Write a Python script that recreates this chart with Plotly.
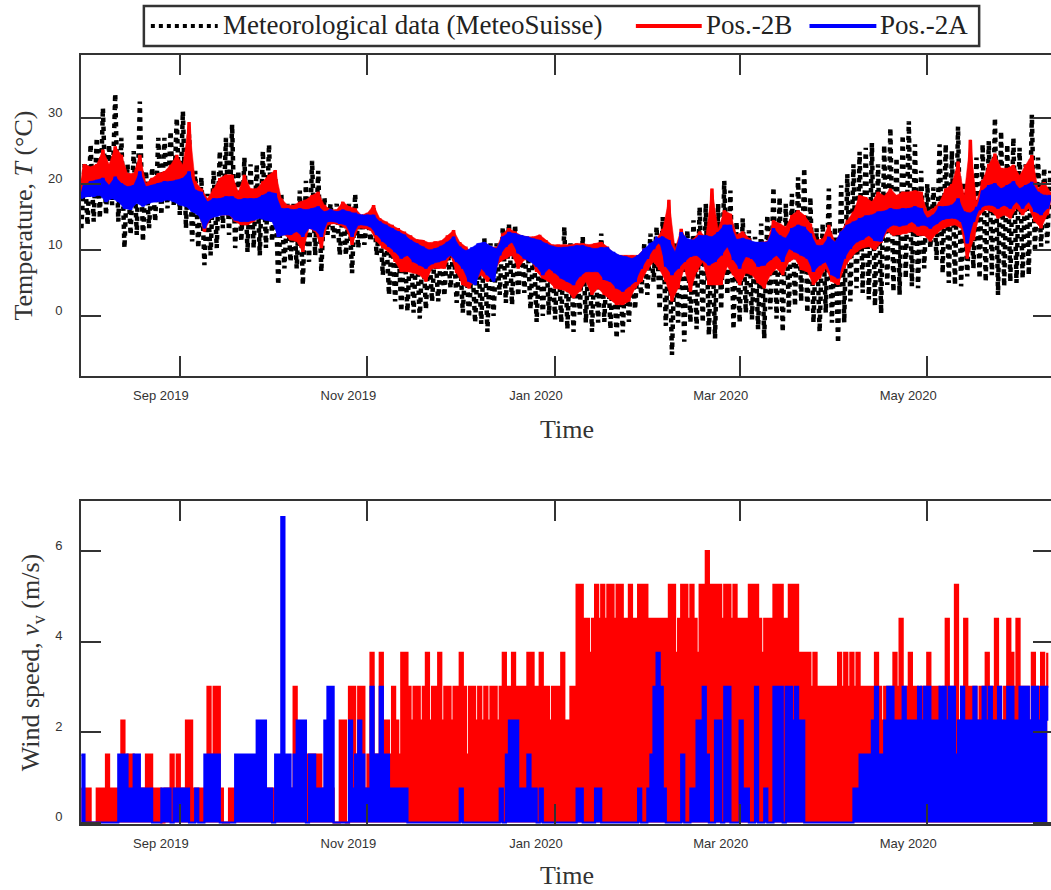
import pandas as pd
import plotly.graph_objects as go

# ---------------- data ----------------
# temperature: one min / max pair every 2 days, starting 2019-07-31
temp_start = "2019-07-31"
temp_step_days = 2

met_max = [23, 26, 27, 31.5, 26, 33.7, 27, 23, 25, 32.5, 22, 22.5, 27, 27, 28, 30, 31, 27.5, 22, 21,
           18.5, 22, 25, 27, 29, 22, 24, 23, 23, 25, 26, 21, 18.5, 17, 17, 19, 20.5, 23.5, 22, 18,
           17, 17, 16.5, 17, 18.5, 15.5, 15.5, 16.5, 14.5, 13.5, 12.5, 12, 11.5,
           12, 11.5, 11, 10.5, 10.5, 10.5, 11, 11, 10, 9.5, 9, 9.5, 11.8, 11, 11, 13.5, 14, 13.8,
           12.5, 12, 11.5, 11, 10.5, 10, 10.5, 13.5, 11, 10.5, 12, 10.5, 10.5, 12.5, 10, 9.5, 9,
           8.5, 8.5, 9, 11, 12.5, 13.5, 15, 14, 11, 12.5, 13, 14.5, 16.5, 17, 13.5, 17, 20.5,
           19, 14.3, 14.8, 13, 12, 14, 15.3, 19.5, 18, 17, 18.5, 21, 22.4, 18, 13.3, 14, 19.3, 13.5,
           19.8, 21.5, 23, 24.9, 25.5, 26.2, 23, 25.9, 28.5, 24, 27.4, 29.5, 26, 22, 20, 19.5, 26,
           26, 25, 28.7, 20.3, 20, 24, 26, 26.5, 30, 28, 26, 27, 25.5, 23, 30.5, 24, 22.4, 22]
met_min = [13.3, 13.8, 14.3, 14.8, 15.3, 16.8, 14.3, 10.3, 12.3, 12.3, 11.3, 13.3, 14.3, 15.3, 16.3,
           16.8, 15.3, 13.3, 11.3, 10.3, 7.7, 9.2, 10.3, 13.3, 12.3, 10.3, 11.3, 9.7, 10.3, 9.2,
           10.3, 11.3, 4.7, 7.2, 8.2, 7.2, 4.7, 8.2, 9.2, 6.7, 12.3, 11.8, 9.2, 9.2, 6.5, 10.3,
           10.8, 11.3, 9.2, 6.2, 3.2, 2.2, 0.7,
           0.7, 0.5, -0.4, 1, 2.2, 2.2, 3, 4.2, 2, 0.5, -0.2, -1, -1.2, -2.4, 0, 3.2, 2, 1.7, 3,
           3.5, 1, -0.9, 0, 0.2, -0.5, -1, -2, -2.4, 0.2, -1, -2.4, -1, -0.9, -2, -3.4, -2.5,
           -0.9, 1, 3.2, 3.2, 5.2, 1, -1.5, -5.9, -1, -3.9, -1, -2, -1, -2.9, -3.4, 1,
           3.2, -2, -1, 0.5, -0.5, -2, -3.4, 1, -0.4, -2.4, 0.5, 1.5, 2.2, 0.5, -1, -2.4, 0.5, -1,
           -4.1, -1, 2.2, 4.2, 3.5, 2.5, 1.5, 0.4, 4.7, 3.7, 3.2, 5.7, 4.5, 4.2, 7.2, 10.3, 8.5,
           6.5, 5, 4.7, 4.5, 6, 7.2, 5.7, 5.2, 6.2, 3.2, 4.5, 5.2, 5, 5.7, 6.2, 9.7, 10.5, 11]
pos2b_max = [23, 22.6, 23, 25.2, 23, 25.7, 24.4, 21.6, 21.6, 24.4, 20.1, 20.9, 21.6, 21.9, 22.9,
             24.4, 22.9, 29.4, 20.4, 19.3, 17.8, 19.3, 20.9, 21.4, 21.4, 18.8, 21.4, 19.3, 19.3,
             20.4, 21.4, 22.1, 17.8, 16.8, 16.8, 17.3, 17.6, 18.3, 18.8, 16.8, 16.1, 16.1, 17.3,
             16.6, 16.3, 15.3, 15.6, 16.8, 14.8, 14.3, 13.8, 13.3, 12.8,
             12.2, 11.6, 11.5, 11.1, 11.3, 11.4, 12.2, 13, 11.2, 10.5, 9.5, 9.2, 11.2, 10.5, 10.4,
             12.5, 13.3, 12.8, 12.2, 12, 12, 12.3, 11.5, 10.8, 10.8, 10.8, 10.8, 11, 11, 10.8, 11,
             11.2, 10.5, 9.5, 9.2, 9.2, 9.2, 9.2, 10.2, 10.4, 11.7, 13.2, 17.6, 10.2, 13.2, 11.2,
             11.7, 12.8, 12, 19.3, 13.2, 16,
             15.5, 12.3, 12.8, 11.8, 10.8, 11.2, 11.3, 14.5, 14, 13.5, 15.3, 16, 15.3, 14, 11.5,
             11.7, 13.8, 11.2, 12.8, 14.5, 15.8, 18.3, 18, 17.3, 18.8, 18.2, 19.3, 18.3, 18.8,
             18.8, 19, 18.8, 15.8, 16.3, 17.3, 19.3, 20, 23.4, 18.3, 26.7, 17.3, 20.6, 23, 24.6,
             22.4, 22.4, 22.9, 21.3, 22.9, 24.4, 19.3, 20.3, 18.8]
pos2b_min = [18.8, 18.8, 19.1, 18.8, 17.8, 18.3, 17.8, 16.8, 16.6, 17.3, 17.8, 18.3, 18.3, 18.3,
             18.6, 18.3, 17.3, 16.8, 16.3, 15.8, 12.8, 14.8, 15.3, 15.3, 15.3, 14.3, 13.8, 13.8,
             14.3, 15.3, 15.1, 14.8, 12.3, 12.3, 11.5, 11.3, 9.7, 13.3, 12.8, 10.3, 13.8, 14,
             13.8, 13.3, 10.8, 13.3, 13.3, 13, 11.3, 10.3, 9.7, 8.2, 6.7,
             6.7, 6.5, 6.2, 5.2, 7.2, 7.2, 7.2, 9.2, 6.5, 4.7, 4.2, 5.5, 6.2, 5.2, 6.5, 8.2, 8.7,
             9.2, 7.2, 8.5, 8.7, 6.7, 5.7, 5.2, 4.2, 4, 3.7, 2.7, 3.7, 5.2, 3.2, 4.2, 3.2, 2.5, 1.7,
             1.7, 2.2, 4.2, 5.2, 7, 8.2, 7, 5.2, 2.2, 4.2, 7.2, 3.7, 6.7, 8.2, 4.7, 4.7, 4.7,
             7.5, 6.2, 4.7, 6.5, 6.2, 5, 4.2, 6.2, 7.2, 6.2, 8.2, 8.7, 7, 6.7, 4.7, 5.7, 7.2, 5.2,
             4.7, 7.2, 8.7, 9.7, 10.3, 10.5, 10, 11.1, 12.8, 12.2, 12.3, 12.5, 12.8, 12.2, 12.2,
             11.3, 12.5, 13.2, 13.6, 13.8, 13.3, 8.7, 11.5, 15.3, 16.1, 15.8, 14.8, 15.3, 14.8,
             16.3, 15.3, 16.3, 14.3, 13.3, 15.3]
pos2a_max = [19.8, 20.4, 20.6, 20.9, 19.8, 21.1, 20.1, 19.6, 19.8, 21.9, 19.6, 19.8, 20.1, 20.4,
             20.4, 20.6, 20.9, 21.9, 19.1, 18.8, 17.3, 17.8, 17.8, 18.1, 18.1, 17.6, 17.8, 17.8,
             17.8, 18.3, 18.8, 18.6, 16.3, 16.3, 16.1, 16.3, 16.1, 16.3, 16.6, 15.8, 16.1, 15.8,
             16.1, 15.8, 15.6, 15.3, 15.3, 15.3, 14.3, 13.8, 13.3, 12.8, 12.3,
             11.5, 11, 10.5, 10, 10.2, 10.6, 11.2, 12, 10.5, 9.9, 10.4, 11, 11.2, 10.6, 10.2, 12,
             12.7, 12.5, 12.2, 12, 11.7, 11.5, 11, 10.6, 10.4, 10.4, 10.5, 10.7, 10.7, 10.4, 10.2,
             10.4, 10.4, 9.7, 9.2, 9, 8.7, 9.2, 10.2, 11, 11.7, 12, 11.5, 9.7, 12.7, 11.7, 11.5,
             12.2, 12.2, 12, 12.7, 13.8,
             13.8, 11.6, 11.8, 11.5, 11.2, 11.2, 11.2, 13.3, 12.2, 11.8, 13.3, 13.8, 13.5, 12.5,
             10.7, 10.7, 12, 11.2, 12.8, 13.8, 14.3, 14.8, 15.2, 15.3, 15.8, 15.9, 16.3, 16.1,
             16.3, 16.3, 16.6, 16.3, 14.8, 15.3, 16.6, 16.6, 16.8, 17.8, 15.8, 15.6, 16.3, 19,
             19.8, 20.1, 19.3, 19.8, 20.4, 19.3, 19.8, 20.3, 18.8, 18.3, 18.3]
pos2a_min = [17.8, 18.1, 18.1, 18.3, 17.3, 17.8, 17.3, 16.3, 16.1, 17.1, 16.6, 17.1, 17.3, 17.3,
             17.6, 17.3, 16.8, 16.6, 15.8, 15.3, 13.3, 14.8, 15.1, 15.3, 15.3, 14.5, 14.3, 14.3,
             14.5, 14.8, 14.5, 14.3, 12, 12.3, 12.3, 12.8, 12, 13.3, 13, 12, 14.3, 14.3, 14, 13.8,
             12, 13.8, 13.8, 13.5, 12.3, 11.3, 10.5, 9.7, 8.7,
             9.2, 8.2, 7.7, 7.2, 7.9, 8.2, 8.5, 9.2, 8.2, 7.2, 5.2, 4.7, 7.2, 6.2, 5.2, 9.2, 10.5,
             11.2, 9.5, 8.7, 8.2, 7.5, 6.2, 7.2, 6.5, 5.7, 5.2, 4.7, 6, 6.7, 6.7, 6.7, 5.5, 5.2,
             4.2, 3.7, 4.5, 5.2, 7.2, 8.7, 10.2, 11.2, 7.5, 6.2, 7.2, 8.2, 9, 9.2, 8.5, 7.7, 8.2,
             9.2,
             10.5, 8.5, 7.2, 9, 8.7, 7.5, 7.7, 8.5, 9.2, 8.2, 10.2, 9.7, 9.2, 8.7, 6.7, 7.7, 8.2,
             6.2, 5.7, 8.7, 10.2, 11.2, 11.6, 12.2, 11.4, 11.3, 13.3, 13.8, 13.6, 13.8, 14.3, 13.6,
             13.8, 13.3, 14, 14.6, 14.8, 14.8, 14.3, 11, 14.3, 16.3, 16.8, 16.8, 16.3, 16.8, 16.3,
             17.3, 16.3, 17.3, 15.8, 15.3, 16.3]

# wind speed: daily maximum level (m/s), starting 2019-07-31
wind_start = "2019-07-31"
wind_pos2b = [0.75, 0.75, 0.75, 0, 0, 0.75, 0.75, 0.75, 1.5, 0.75,
              0.75, 0.75, 0.75, 2.25, 0.75, 1.5, 1.5, 0.75, 0.75, 0.75,
              0.75, 1.5, 1.5, 0.75, 0.75, 0.75, 0, 0.75, 0.75, 1.5,
              0.75, 1.5, 0.75, 0.75, 2.25, 2.25, 0.75, 0.75, 0.75, 0.75,
              0.75, 3, 1.5, 3, 3, 0.75, 0, 0, 0.75, 0.75,
              0.75, 0.75, 0.75, 0.75, 0.75, 0.75, 0.75, 0.75, 0.75, 0.75,
              0.75, 0.75, 0.75, 0.75, 0.75, 0.75, 0.75, 0.75, 0.75, 3,
              1.5, 1.5, 0.75, 1.5, 1.5, 1.5, 1.5, 1.5, 0.75, 0.75,
              0.75, 0.75, 0, 0, 2.25, 2.25, 0, 3, 3, 1.5,
              3, 3, 0.75, 1.5, 3.75, 1.5, 1.5, 3.75, 2.25, 2.25,
              1.5, 3, 2.25, 1.5, 3.75, 3.75, 3, 2.25, 3, 3,
              2.25, 3, 3.75, 2.25, 3, 3, 3.75, 2.25, 3, 3,
              2.25, 3, 3, 3.75, 3, 1.5, 3, 3, 2.25, 3,
              2.25, 3, 2.25, 3, 3, 2.25, 3, 3.75, 3, 3,
              3.75, 3, 3, 3, 3, 3.75, 3.75, 3, 3, 3.75,
              3, 3, 2.25, 3, 3, 3, 3.75, 2.25, 2.25, 3,
              3, 5.25, 5.25, 4.5, 4.5, 3.75, 4.5, 5.25, 4.5, 5.25,
              4.5, 5.25, 5.25, 4.5, 5.25, 5.25, 4.5, 4.5, 5.25, 4.5,
              4.5, 5.25, 5.25, 5.25, 4.5, 4.5, 4.5, 4.5, 4.5, 4.5,
              4.5, 5.25, 5.25, 3.75, 4.5, 5.25, 5.25, 4.5, 5.25, 4.5,
              3.75, 5.25, 5.25, 6, 5.25, 5.25, 5.25, 5.25, 4.5, 5.25,
              5.25, 4.5, 5.25, 4.5, 4.5, 4.5, 4.5, 5.25, 5.25, 5.25,
              4.5, 3.75, 4.5, 4.5, 4.5, 5.25, 5.25, 5.25, 4.5, 4.5,
              5.25, 5.25, 5.25, 3.75, 3.75, 3.75, 3.75, 3, 3.75, 3,
              3, 3, 3, 3, 3, 3, 3.75, 3, 3.75, 3,
              3.75, 3, 3.75, 3, 3, 3, 3, 3, 3.75, 3,
              2.25, 3, 3, 3, 3.75, 3, 4.5, 3, 3, 3.75,
              3, 3, 2.25, 3, 3, 3.75, 3, 3, 3, 2.25,
              3, 4.5, 3, 3, 5.25, 2.25, 3, 4.5, 3, 3,
              3, 2.25, 3, 3, 3.75, 3, 3, 4.5, 3, 2.25,
              3, 4.5, 3.75, 3, 4.5, 3, 3, 3, 2.25, 3.75,
              3, 3, 3.75, 3, 3.75]
wind_pos2a = [1.5, 0, 0, 0, 0, 0, 0, 0, 0, 0,
              0, 0, 1.5, 1.5, 1.5, 0.75, 0.75, 1.5, 1.5, 0.75,
              0.75, 0.75, 0.75, 0, 0, 0, 0.75, 0.75, 0.75, 0,
              0.75, 0.75, 0.75, 0.75, 0.75, 0, 0, 0.75, 0, 0,
              1.5, 1.5, 1.5, 1.5, 1.5, 0, 0, 0, 0, 0,
              1.5, 1.5, 1.5, 1.5, 1.5, 1.5, 1.5, 2.25, 2.25, 2.25,
              0.75, 0.75, 0, 1.5, 1.5, 6.75, 1.5, 1.5, 0.75, 1.5,
              2.25, 2.25, 2.25, 0, 1.5, 1.5, 0.75, 0.75, 0.75, 2.25,
              3, 3, 0, 0, 0, 0, 0, 2.25, 0.75, 1.5,
              2.25, 1.5, 0.75, 0.75, 3, 1.5, 1.5, 3, 1.5, 1.5,
              0.75, 0.75, 0.75, 0.75, 0.75, 0.75, 0, 0, 0, 0,
              0, 0, 0, 0, 0, 0, 0, 0, 0, 0,
              0, 0, 0, 0.75, 0, 0, 0, 0, 0, 0,
              0, 0, 0, 0, 0, 0, 0.75, 0, 1.5, 2.25,
              2.25, 2.25, 0.75, 0.75, 0.75, 1.5, 0.75, 0.75, 0, 0.75,
              0, 0, 0, 0, 0, 0, 0, 0, 0, 0,
              0, 0.75, 0.75, 0, 0, 0, 0, 0.75, 0.75, 0,
              0, 0, 0, 0, 0, 0, 0, 0, 0, 0,
              0, 0.75, 0, 0, 0.75, 1.5, 3, 3.75, 3, 0.75,
              0, 0, 0, 0, 0, 1.5, 0, 0, 0.75, 0.75,
              2.25, 2.25, 3, 1.5, 0, 0, 2.25, 2.25, 0, 3,
              3, 0, 0, 0, 2.25, 0.75, 0.75, 0, 0, 3,
              0, 0, 0.75, 0, 0, 3, 3, 3, 0, 3,
              3, 2.25, 3, 2.25, 2.25, 0, 0, 0, 0, 0,
              0, 0, 0, 0, 0, 0, 0, 0, 0, 0,
              0, 0.75, 0.75, 1.5, 1.5, 1.5, 1.5, 2.25, 3, 1.5,
              1.5, 2.25, 3, 3, 2.25, 2.25, 2.25, 3, 2.25, 2.25,
              2.25, 2.25, 3, 2.25, 3, 3, 2.25, 2.25, 2.25, 3,
              3, 2.25, 3, 3, 1.5, 2.25, 3, 2.25, 2.25, 2.25,
              3, 2.25, 2.25, 3, 2.25, 3, 2.25, 2.25, 3, 2.25,
              2.25, 3, 3, 2.25, 2.25, 3, 3, 3, 2.25, 3,
              3, 2.25, 3, 3, 2.25]

tick_dates = ["2019-09-01", "2019-11-01", "2020-01-01", "2020-03-01", "2020-05-01"]
tick_labels = ["Sep 2019", "Nov 2019", "Jan 2020", "Mar 2020", "May 2020"]
x_range = ["2019-07-30 21:00", "2020-06-10 21:00"]
temp_ticks = [0, 10, 20, 30]
wind_ticks = [0, 2, 4, 6]

series_names = ["Meteorological data (MeteoSuisse)", "Pos.-2B", "Pos.-2A"]

# ---------------- styling ----------------
# the figure is slightly wider than the 1051 px window: its right frame edge falls
# just outside the visible page, as in the reference picture
W, H = 1055, 890
ML, MR, MT, MB = 81, 0, 55, 66
AX = "#333333"
SERIF = "Liberation Serif, Times New Roman, serif"
SANS = "Liberation Sans, Arial, sans-serif"
RED, BLUE, BLACK = "#ff0000", "#0000ff", "#000000"

t0 = pd.Timestamp(temp_start)


def times(i, half):
    return t0 + pd.Timedelta(days=temp_step_days * i + (temp_step_days / 2 if half else 0))


def zigzag(lo, hi):
    xs, ys = [], []
    for i, (a, b) in enumerate(zip(lo, hi)):
        xs += [times(i, False), times(i, True)]
        ys += [a, b]
    return xs, ys


def band(lo, hi):
    n = len(lo)
    xs = [times(i, True) for i in range(n)] + [times(i, False) for i in reversed(range(n))]
    ys = list(hi) + list(reversed(lo))
    return xs, ys


fig = go.Figure()

for lo, hi, name, color, dash, width, filled in [
    (met_min, met_max, series_names[0], BLACK, "dot", 4.5, False),
    (pos2b_min, pos2b_max, series_names[1], RED, "solid", 3.5, True),
    (pos2a_min, pos2a_max, series_names[2], BLUE, "solid", 3.5, True),
]:
    if filled:
        bx, by = band(lo, hi)
        fig.add_trace(go.Scatter(x=bx, y=by, mode="lines", fill="toself", fillcolor=color,
                                 line=dict(color=color, width=0.5), showlegend=False,
                                 hoverinfo="skip", xaxis="x", yaxis="y"))
    xs, ys = zigzag(lo, hi)
    fig.add_trace(go.Scatter(x=xs, y=ys, mode="lines", name=name, showlegend=False,
                             line=dict(color=color, width=width, dash=dash),
                             xaxis="x", yaxis="y"))

wind_x = pd.date_range(wind_start, periods=len(wind_pos2b), freq="D")
for vals, name, color in [(wind_pos2b, series_names[1], RED), (wind_pos2a, series_names[2], BLUE)]:
    fig.add_trace(go.Scatter(x=wind_x, y=vals, mode="lines", name=name, showlegend=False,
                             line=dict(color=color, width=2.2, shape="hv"),
                             fill="tozeroy", fillcolor=color,
                             xaxis="x2", yaxis="y2"))

plot_w = W - ML - MR
plot_h = H - MT - MB


def px_x(px):
    return (px - ML) / plot_w


def px_y(py):
    return (H - MB - py) / plot_h


common = dict(showline=True, linecolor=AX, linewidth=2, mirror="ticks", ticks="inside",
              ticklen=20, tickwidth=2, tickcolor=AX, showgrid=False, zeroline=False,
              tickfont=dict(family=SANS, size=13, color="#333333"))
title_font = dict(family=SERIF, size=26, color="#333333")

xcommon = dict(common, range=x_range, tickvals=tick_dates, ticktext=tick_labels,
               ticklabelshift=-19, ticklabelstandoff=6)
ycommon = dict(common, ticklabelshift=-6, ticklabelstandoff=14)

fig.update_layout(
    width=W, height=H,
    margin=dict(l=ML, r=MR, t=MT, b=MB),
    paper_bgcolor="white", plot_bgcolor="white",
    showlegend=False,
    xaxis=dict(xcommon, anchor="y", domain=[0, 1],
               title=dict(text="Time", font=title_font, standoff=18)),
    yaxis=dict(ycommon, anchor="x", domain=[px_y(376), 1], range=[-9.09, 39.55],
               tickvals=temp_ticks,
               title=dict(text="Temperature, <i>T</i> (°C)", font=title_font, standoff=8)),
    xaxis2=dict(xcommon, anchor="y2", domain=[0, 1],
                title=dict(text="Time", font=title_font, standoff=17)),
    yaxis2=dict(ycommon, anchor="x2", domain=[0, px_y(501)], range=[-0.033, 7.105],
                tickvals=wind_ticks,
                title=dict(text="Wind speed, <i>v</i><sub>v</sub> (m/s)", font=title_font,
                           standoff=8)),
)

# legend drawn as a framed box with line samples and text labels
leg_y = 26
shapes = [dict(type="rect", xref="paper", yref="paper", x0=px_x(144), x1=px_x(981),
               y0=px_y(46), y1=px_y(6), line=dict(color=AX, width=2.5), fillcolor="white",
               layer="above")]
samples = [(151, 218, BLACK, "dot", 4), (637, 703, RED, "solid", 4), (811, 878, BLUE, "solid", 4)]
for x0, x1, c, d, w in samples:
    shapes.append(dict(type="line", xref="paper", yref="paper", x0=px_x(x0), x1=px_x(x1),
                       y0=px_y(leg_y), y1=px_y(leg_y), line=dict(color=c, width=w, dash=d),
                       layer="above"))
annotations = []
for xpos, name in zip([221, 705, 880], series_names):
    annotations.append(dict(xref="paper", yref="paper", x=px_x(xpos), y=px_y(leg_y - 1),
                            xanchor="left", yanchor="middle", text=name, showarrow=False,
                            font=dict(family=SERIF, size=27, color="#222222")))
fig.update_layout(shapes=shapes, annotations=annotations)

fig.write_html("out.html", config={"displayModeBar": False},
               post_script="document.body.style.margin='0';document.body.style.overflow='hidden';")
